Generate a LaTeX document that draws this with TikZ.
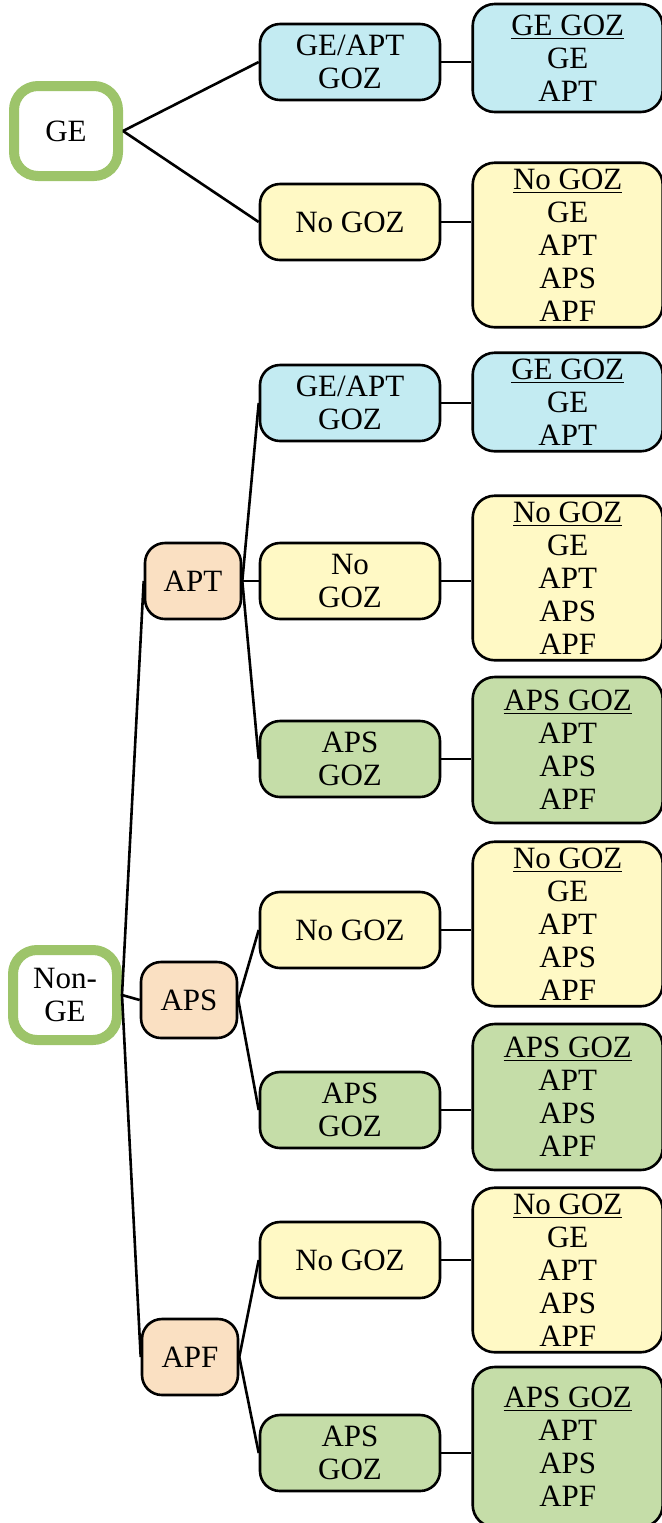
\documentclass[tikz,border=0pt]{standalone}
\usepackage{fontspec}
\setmainfont{Liberation Serif}
\usepackage{tikz}
\definecolor{gozblue}{RGB}{195,235,242}
\definecolor{nogozyellow}{RGB}{255,249,197}
\definecolor{apsgreen}{RGB}{197,221,168}
\definecolor{branchpeach}{RGB}{250,224,194}
\definecolor{rootgreen}{RGB}{157,196,106}

\begin{document}
\begin{tikzpicture}[x=0.5pt, y=-0.5pt, line width=1.3pt,
  every node/.style={font=\fontsize{15.5}{16.5}\selectfont, align=center}]
  \tikzstyle{rootbox}=[draw=rootgreen, line width=5pt, rounded corners=12pt, minimum width=52pt, minimum height=45pt, fill=white]
  \tikzstyle{branch}=[draw, rounded corners=10pt, minimum width=48pt, minimum height=38pt, fill=branchpeach]
  \tikzstyle{choice}=[draw, rounded corners=10pt, minimum width=90pt, minimum height=38pt]
  \tikzstyle{result}=[draw, rounded corners=11pt, anchor=east, minimum width=95pt, inner ysep=3pt]
  \useasboundingbox (0,0) rectangle (662,1523);

  % GE part
  \node[rootbox] (ge) at (66,131) {GE};
  \node[choice, fill=gozblue] (geGoz) at (350,62) {GE/APT\\GOZ};
  \node[choice, fill=nogozyellow] (geNo) at (350,222) {No GOZ};
  \node[result, fill=gozblue, minimum height=54pt] (geGozRes) at (664,58) {\underline{GE GOZ}\\GE\\APT};
  \node[result, fill=nogozyellow] (geNoRes) at (664,245) {\underline{No GOZ}\\GE\\APT\\APS\\APF};
  \draw (ge.east) -- (geGoz.west);
  \draw (ge.east) -- (geNo.west);
  \draw (geGoz.east) -- (geGoz.east -| geGozRes.west);
  \draw (geNo.east) -- (geNo.east -| geNoRes.west);

  % Non-GE part
  \node[rootbox] (nge) at (65,995) {Non-\\GE};
  \node[branch] (apt) at (193,581) {APT};
  \node[branch] (aps) at (189,1000) {APS};
  \node[branch] (apf) at (190,1357) {APF};
  \draw (nge.east) -- (apt.west);
  \draw (nge.east) -- (aps.west);
  \draw (nge.east) -- (apf.west);

  % APT
  \node[choice, fill=gozblue] (aptGoz) at (350,403) {GE/APT\\GOZ};
  \node[choice, fill=nogozyellow] (aptNo) at (350,581) {No\\GOZ};
  \node[choice, fill=apsgreen] (aptAps) at (350,759) {APS\\GOZ};
  \node[result, fill=gozblue] (aptGozRes) at (664,402) {\underline{GE GOZ}\\GE\\APT};
  \node[result, fill=nogozyellow] (aptNoRes) at (664,578) {\underline{No GOZ}\\GE\\APT\\APS\\APF};
  \node[result, fill=apsgreen, minimum height=73pt] (aptApsRes) at (664,750) {\underline{APS GOZ}\\APT\\APS\\APF};
  \draw (apt.east) -- (aptGoz.west);
  \draw (apt.east) -- (aptNo.west);
  \draw (apt.east) -- (aptAps.west);
  \draw (aptGoz.east) -- (aptGoz.east -| aptGozRes.west);
  \draw (aptNo.east) -- (aptNo.east -| aptNoRes.west);
  \draw (aptAps.east) -- (aptAps.east -| aptApsRes.west);

  % APS
  \node[choice, fill=nogozyellow] (apsNo) at (350,930) {No GOZ};
  \node[choice, fill=apsgreen] (apsAps) at (350,1110) {APS\\GOZ};
  \node[result, fill=nogozyellow] (apsNoRes) at (664,924) {\underline{No GOZ}\\GE\\APT\\APS\\APF};
  \node[result, fill=apsgreen, minimum height=73pt] (apsApsRes) at (664,1097) {\underline{APS GOZ}\\APT\\APS\\APF};
  \draw (aps.east) -- (apsNo.west);
  \draw (aps.east) -- (apsAps.west);
  \draw (apsNo.east) -- (apsNo.east -| apsNoRes.west);
  \draw (apsAps.east) -- (apsAps.east -| apsApsRes.west);

  % APF
  \node[choice, fill=nogozyellow] (apfNo) at (350,1260) {No GOZ};
  \node[choice, fill=apsgreen] (apfAps) at (350,1453) {APS\\GOZ};
  \node[result, fill=nogozyellow] (apfNoRes) at (664,1270) {\underline{No GOZ}\\GE\\APT\\APS\\APF};
  \node[result, fill=apsgreen, minimum height=80pt] (apfApsRes) at (664,1447) {\underline{APS GOZ}\\APT\\APS\\APF};
  \draw (apf.east) -- (apfNo.west);
  \draw (apf.east) -- (apfAps.west);
  \draw (apfNo.east) -- (apfNo.east -| apfNoRes.west);
  \draw (apfAps.east) -- (apfAps.east -| apfApsRes.west);
\end{tikzpicture}
\end{document}
